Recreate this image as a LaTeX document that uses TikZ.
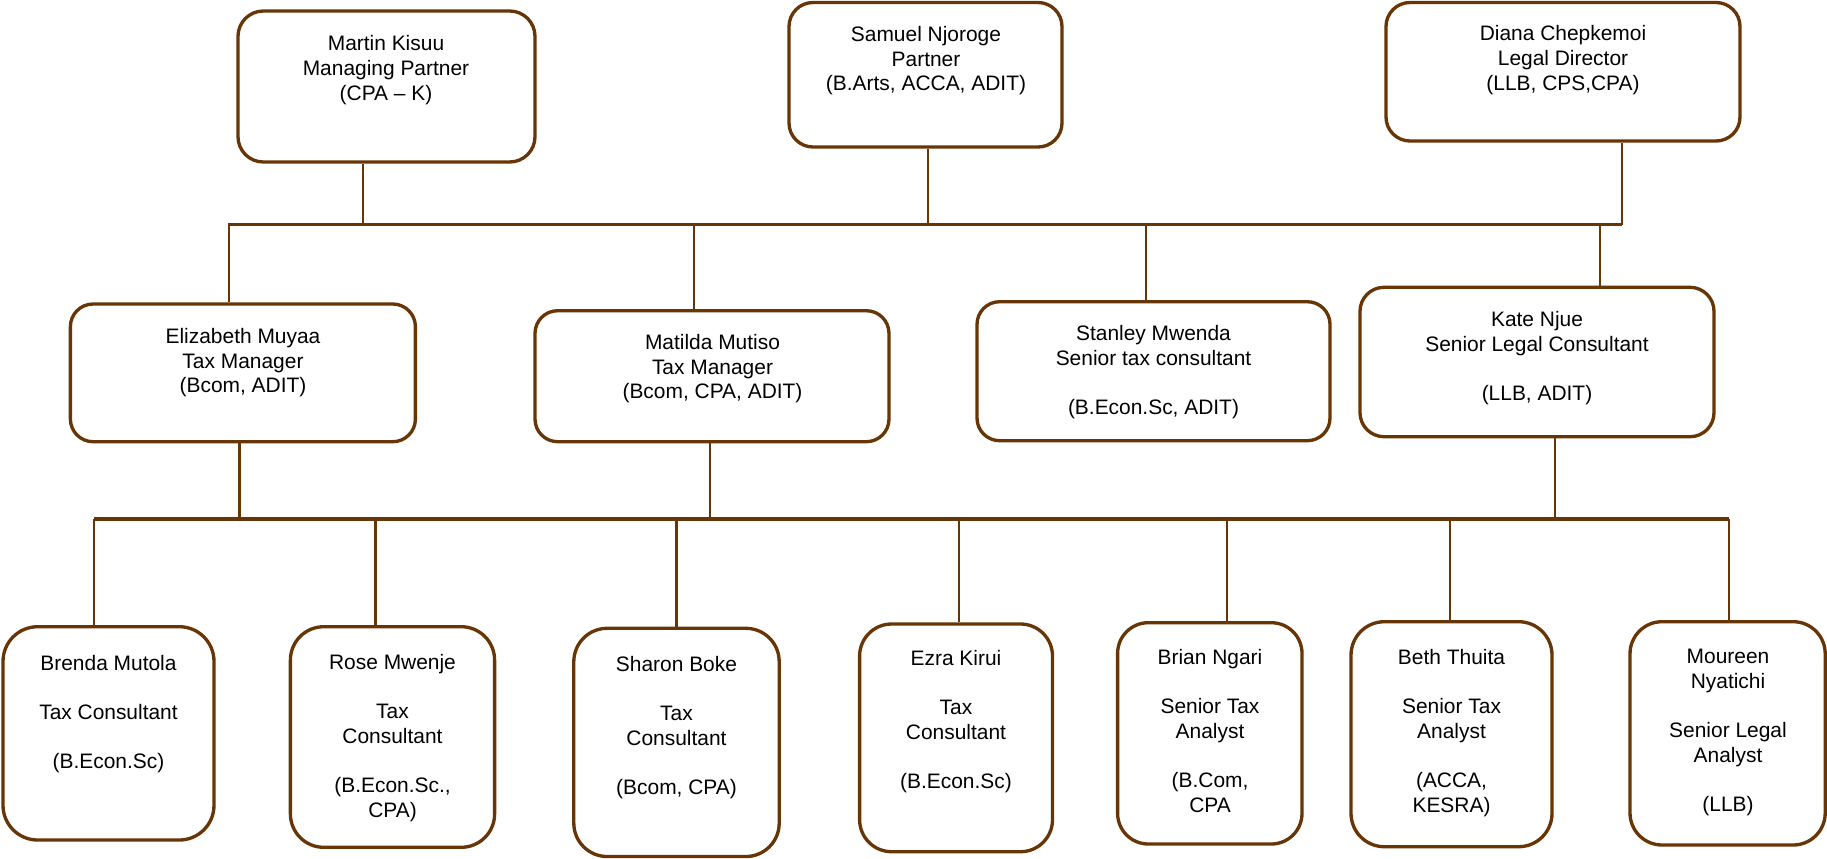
\documentclass[tikz,border=0pt]{standalone}
\usepackage{fontspec}
\setmainfont{Liberation Sans}
\usetikzlibrary{fit}
\definecolor{brn}{RGB}{104,54,6}
\tikzset{
  boxst/.style={draw=brn, line width=2.5pt, inner sep=0pt, fill=white},
  txt/.style={anchor=north, align=center, inner sep=0pt, font=\fontsize{15.7}{18.45}\selectfont, text=black},
  conn/.style={draw=brn, line width=2.2pt},
  bus/.style={draw=brn, line width=2.6pt},
}
\newcommand\pbox[6]{\node[boxst, rounded corners=#6, fit={(#2,#3) (#4,#5)}] (#1) {};}
\newcommand\ptxt[4]{\node[txt] (#1) at (#2,#3) {#4};}
\begin{document}
\begin{tikzpicture}[x=0.75pt,y=-0.75pt]
\useasboundingbox (0,0) rectangle (1827,858);
\coordinate (tbL) at (228,224.5);
\coordinate (tbR) at (1622,224.5);
\coordinate (lbL) at (94,519);
\coordinate (lbR) at (1729,519);
% boxes
\pbox{martin}{238}{11}{535}{162}{19pt}
\pbox{samuel}{789}{2.5}{1062}{147}{18pt}
\pbox{diana}{1386}{2.5}{1740}{141}{18pt}
\pbox{eliz}{70.4}{304}{415.4}{441.7}{17pt}
\pbox{matilda}{535}{310.7}{889}{441.7}{17pt}
\pbox{stanley}{977}{301.7}{1330}{440.7}{17pt}
\pbox{kate}{1360}{287.3}{1714}{436.7}{18pt}
\pbox{brenda}{3}{626.7}{214}{840}{26pt}
\pbox{rose}{290.4}{626.7}{494.6}{847.3}{25pt}
\pbox{sharon}{573.8}{628.3}{779.2}{856.5}{25pt}
\pbox{ezra}{859.6}{624}{1052.5}{851.7}{24pt}
\pbox{brian}{1117.6}{622.7}{1302}{844}{23pt}
\pbox{beth}{1351}{621.7}{1552}{846.7}{25pt}
\pbox{moureen}{1630}{621.7}{1825.2}{845}{24pt}
% top bus
\coordinate (cMa) at (363,224.5);
\coordinate (cSa) at (928,224.5);
\coordinate (cEl) at (229,224.5);
\coordinate (cMt) at (694,224.5);
\coordinate (cSt) at (1146,224.5);
\coordinate (cKa) at (1600,224.5);
\draw[bus] (tbL) -- (tbR);
\draw[conn] (tbR) -- (tbR |- diana.south);
\draw[conn] (cMa) -- (cMa |- martin.south);
\draw[conn] (cSa) -- (cSa |- samuel.south);
\draw[conn] (cEl) -- (cEl |- eliz.north);
\draw[conn] (cMt) -- (cMt |- matilda.north);
\draw[conn] (cSt) -- (cSt |- stanley.north);
\draw[conn] (cKa) -- (cKa |- kate.north);
% lower bus
\coordinate (dEl) at (239.4,519);
\coordinate (dMt) at (710,519);
\coordinate (dKa) at (1555,519);
\coordinate (dBr) at (94,519);
\coordinate (dRo) at (375.5,519);
\coordinate (dSh) at (676.5,519);
\coordinate (dEz) at (959,519);
\coordinate (dBi) at (1227,519);
\coordinate (dBe) at (1450,519);
\coordinate (dMo) at (1729,519);
\draw[bus] (lbL) -- (lbR);
\draw[conn] (dEl) -- (dEl |- eliz.south);
\draw[conn] (dMt) -- (dMt |- matilda.south);
\draw[conn] (dKa) -- (dKa |- kate.south);
\draw[conn] (dBr) -- (dBr |- brenda.north);
\draw[conn] (dRo) -- (dRo |- rose.north);
\draw[conn] (dSh) -- (dSh |- sharon.north);
\draw[conn] (dEz) -- (dEz |- ezra.north);
\draw[conn] (dBi) -- (dBi |- brian.north);
\draw[conn] (dBe) -- (dBe |- beth.north);
\draw[conn] (dMo) -- (dMo |- moureen.north);
% texts
\ptxt{tmartin}{386}{35.5}{Martin Kisuu\\Managing Partner\\(CPA – K)}
\ptxt{tsamuel}{926}{26}{Samuel Njoroge\\Partner\\(B.Arts, ACCA, ADIT)}
\ptxt{tdiana}{1563}{25.5}{Diana Chepkemoi\\Legal Director\\(LLB, CPS,CPA)}
\ptxt{teliz}{243}{328}{Elizabeth Muyaa\\Tax Manager\\(Bcom, ADIT)}
\ptxt{tmatilda}{712.5}{334}{Matilda Mutiso\\Tax Manager\\(Bcom, CPA, ADIT)}
\ptxt{tstanley}{1153.5}{325.5}{Stanley Mwenda\\Senior tax consultant\\[18.45pt](B.Econ.Sc, ADIT)}
\ptxt{tkate}{1537}{311}{Kate Njue\\Senior Legal Consultant\\[18.45pt](LLB, ADIT)}
\ptxt{tbrenda}{108.5}{655}{Brenda Mutola\\[18.45pt]Tax Consultant\\[18.45pt](B.Econ.Sc)}
\ptxt{trose}{392.5}{654}{Rose Mwenje\\[18.45pt]Tax\\Consultant\\[18.45pt](B.Econ.Sc.,\\CPA)}
\ptxt{tsharon}{676.5}{656}{Sharon Boke\\[18.45pt]Tax\\Consultant\\[18.45pt](Bcom, CPA)}
\ptxt{tezra}{956}{650}{Ezra Kirui\\[18.45pt]Tax\\Consultant\\[18.45pt](B.Econ.Sc)}
\ptxt{tbrian}{1210}{649}{Brian Ngari\\[18.45pt]Senior Tax\\Analyst\\[18.45pt](B.Com,\\CPA}
\ptxt{tbeth}{1451.5}{649}{Beth Thuita\\[18.45pt]Senior Tax\\Analyst\\[18.45pt](ACCA,\\KESRA)}
\ptxt{tmoureen}{1728}{649}{Moureen\\Nyatichi\\[18.45pt]Senior Legal\\Analyst\\[18.45pt](LLB)}
\end{tikzpicture}
\end{document}
